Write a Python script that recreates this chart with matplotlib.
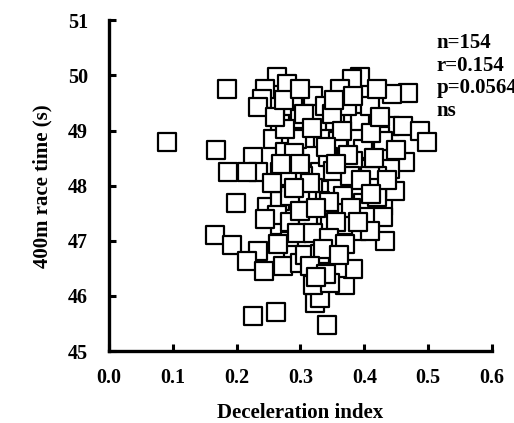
import matplotlib.pyplot as plt

plt.rcParams['font.family'] = ['Liberation Serif', 'DejaVu Serif']
plt.rcParams['font.weight'] = 'bold'

# deceleration index (x) and 400m race time in s (y)
decel = [0.091, 0.185, 0.168, 0.187, 0.199, 0.166, 0.193, 0.234, 0.216, 0.243,
         0.226, 0.262, 0.226, 0.234, 0.268, 0.268, 0.257, 0.276, 0.263, 0.279,
         0.244, 0.240, 0.233, 0.252, 0.268, 0.284, 0.288, 0.273, 0.299, 0.342,
         0.323, 0.331, 0.370, 0.320, 0.382, 0.357, 0.432, 0.331, 0.389, 0.404,
         0.429, 0.448, 0.469, 0.443, 0.393, 0.381, 0.362, 0.320, 0.288, 0.440,
         0.461, 0.487, 0.498, 0.464, 0.440, 0.425, 0.393, 0.354, 0.389, 0.335,
         0.318, 0.357, 0.299, 0.295, 0.276, 0.398, 0.373, 0.331, 0.304, 0.420,
         0.409, 0.373, 0.338, 0.382, 0.420, 0.279, 0.357, 0.393, 0.320, 0.359,
         0.398, 0.429, 0.343, 0.382, 0.351, 0.378, 0.409, 0.420, 0.367, 0.331,
         0.310, 0.346, 0.373, 0.398, 0.404, 0.429, 0.320, 0.216, 0.248, 0.268,
         0.299, 0.310, 0.263, 0.284, 0.420, 0.284, 0.312, 0.346, 0.367, 0.409,
         0.307, 0.331, 0.346, 0.305, 0.350, 0.318, 0.365, 0.410, 0.290, 0.340,
         0.375, 0.415, 0.300, 0.355, 0.395, 0.315, 0.290, 0.345, 0.380, 0.300,
         0.325, 0.355, 0.390, 0.295, 0.320, 0.345, 0.370, 0.335, 0.360, 0.315,
         0.340, 0.325, 0.270, 0.255, 0.260, 0.275, 0.300, 0.425, 0.450, 0.435,
         0.410, 0.245, 0.265, 0.352]
race_time = [48.79, 49.75, 48.65, 48.25, 47.68, 47.10, 46.92, 46.81, 46.63, 46.45,
             45.64, 45.71, 48.52, 48.25, 48.25, 49.15, 48.85, 48.61, 49.98, 49.84,
             49.75, 49.57, 49.42, 47.55, 47.28, 46.99, 46.74, 46.54, 46.59, 45.48,
             45.87, 45.96, 46.20, 46.20, 46.49, 46.50, 46.99, 47.01, 47.17, 47.71,
             47.64, 47.91, 49.69, 49.66, 49.98, 49.93, 49.75, 49.62, 49.44, 49.08,
             49.08, 48.99, 48.79, 48.43, 48.31, 48.90, 49.15, 49.15, 48.85, 48.85,
             48.54, 48.61, 49.21, 48.85, 49.03, 48.31, 48.31, 48.25, 48.18, 48.18,
             49.44, 49.44, 49.44, 49.62, 49.75, 48.18, 47.95, 47.95, 47.95, 48.81,
             48.67, 48.81, 48.52, 48.45, 48.27, 48.18, 48.18, 47.95, 47.82, 47.73,
             47.80, 47.46, 47.50, 47.68, 47.44, 47.44, 47.46, 48.25, 47.62, 47.73,
             47.86, 46.90, 47.46, 47.82, 47.80, 47.35, 47.32, 47.28, 47.28, 47.17,
             46.74, 46.77, 46.23, 49.30, 49.30, 49.05, 49.00, 48.95, 48.60, 48.70,
             48.55, 48.50, 48.40, 48.40, 48.10, 48.05, 47.95, 47.70, 47.60, 47.55,
             47.60, 47.35, 47.35, 47.15, 47.15, 47.05, 46.95, 46.85, 46.75, 46.55,
             46.40, 46.35, 48.40, 48.05, 49.25, 49.55, 49.75, 49.25, 48.65, 48.10,
             47.85, 47.40, 46.95, 49.55]

stats_text = "n=154\nr=0.154\np=0.0564\nns"

fig = plt.figure(figsize=(5.14, 4.23), dpi=100)
ax = fig.add_axes([0.212, 0.170, 0.745, 0.782])

ax.scatter(decel, race_time, marker='s', s=150, facecolor='white',
           edgecolor='black', linewidth=1.6, zorder=3, clip_on=False)

ax.set_xlim(0.0, 0.6)
ax.set_ylim(45, 51)
ax.set_xticks([0.0, 0.1, 0.2, 0.3, 0.4, 0.5, 0.6])
ax.set_xticklabels(['0.0', '0.1', '0.2', '0.3', '0.4', '0.5', '0.6'])
ax.set_yticks([45, 46, 47, 48, 49, 50, 51])

for side in ['top', 'right']:
    ax.spines[side].set_visible(False)
for side in ['left', 'bottom']:
    ax.spines[side].set_linewidth(2.4)

ax.tick_params(axis='both', direction='in', length=5, width=2.2, labelsize=14.5)
ax.tick_params(axis='x', pad=12)
ax.tick_params(axis='y', pad=15)
for lab in ax.get_xticklabels() + ax.get_yticklabels():
    lab.set_fontweight('bold')

ax.set_xlabel('Deceleration index', fontsize=15, fontweight='bold', labelpad=11)
ax.set_ylabel('400m race time (s)', fontsize=15, fontweight='bold', labelpad=11)

fig.text(0.850, 0.922, stats_text, fontsize=15, fontweight='bold',
         va='top', ha='left', linespacing=1.17)

fig.savefig('out.png', dpi=100)
